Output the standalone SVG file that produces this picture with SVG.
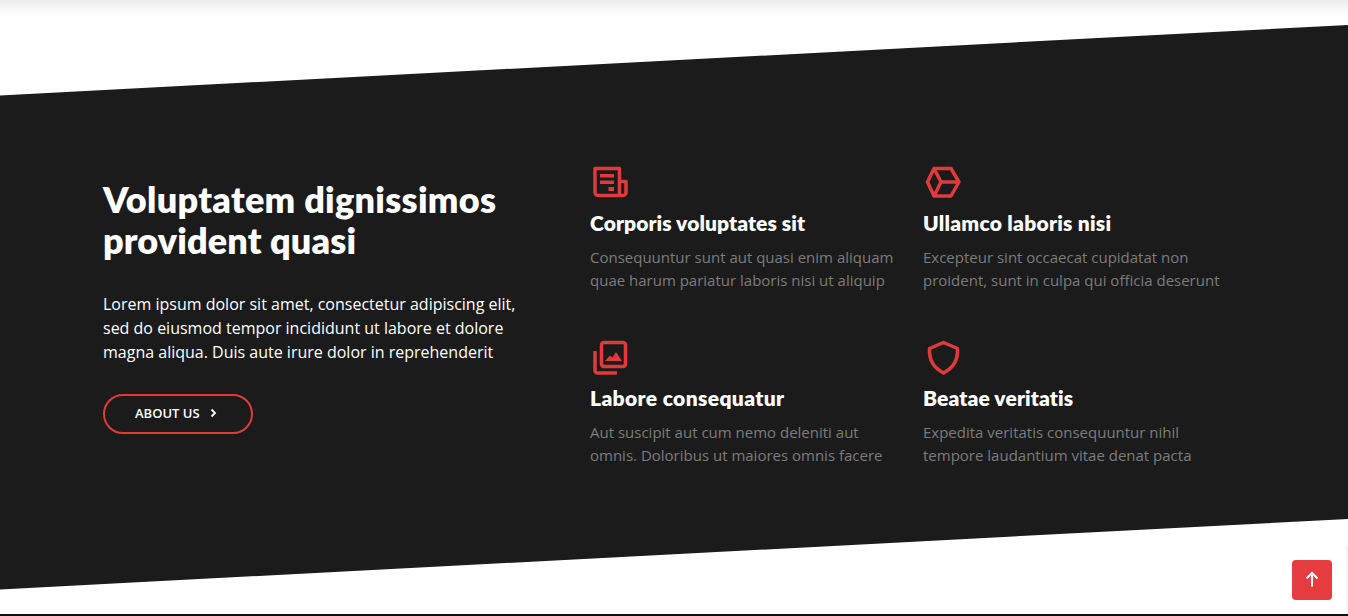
<svg xmlns="http://www.w3.org/2000/svg" width="1348" height="616" viewBox="0 0 1348 616">
<defs>
<linearGradient id="shadow" x1="0" y1="0" x2="0" y2="1"><stop offset="0" stop-color="#000" stop-opacity=".075"/><stop offset="1" stop-color="#000" stop-opacity="0"/></linearGradient>
</defs>
<style>
.h{font-family:Lato,"Open Sans",sans-serif;font-weight:800;fill:#fff;font-variant-ligatures:none}
.b{font-family:"Open Sans",sans-serif;font-size:16px}
.s{font-family:"Open Sans",sans-serif;font-size:15px;fill:#7c7c7c}
.w{fill:#fff}
.i{fill:none;stroke:#e03a3c;stroke-width:3.500;stroke-linejoin:round}
.t{font-size:21px}
</style>
<rect width="1348" height="616" fill="#fff"/>
<rect width="1348" height="16" fill="url(#shadow)"/>
<polygon points="0,95.500 1348,25 1348,519 0,589.500" fill="#1b1b1b"/>
<rect x="0" y="614" width="1348" height="2" fill="#111"/>
<rect x="1346" y="546" width="2" height="68" fill="#f4f4f4"/>
<g id="intro">
<text class="h" x="103" y="213" font-size="36" textLength="393">Voluptatem dignissimos</text>
<text class="h" x="103" y="254" font-size="36" textLength="253">provident quasi</text>
<text class="b w" x="103" y="310">Lorem ipsum dolor sit amet, consectetur adipiscing elit,</text>
<text class="b w" x="103" y="334">sed do eiusmod tempor incididunt ut labore et dolore</text>
<text class="b w" x="103" y="358">magna aliqua. Duis aute irure dolor in reprehenderit</text>
</g>
<g id="about-button">
<rect x="104" y="395" width="148" height="38" rx="19" fill="none" stroke="#e03a3c" stroke-width="2"/>
<text x="135" y="418" font-family="'Open Sans',sans-serif" font-weight="600" font-size="13" fill="#fff">ABOUT US</text>
<path d="M211.500 409.500L215 413L211.500 416.500" fill="none" stroke="#fff" stroke-width="1.800"/>
</g>
<g id="feature-1">
<path class="i" d="M595 168.500H619.500V195.500H598A3 3 0 0 1 595 192.500ZM619.500 181.500H626V192.500A3 3 0 0 1 623 195.500H619.500"/>
<path d="M600 174h14v3.500h-14zM600 180.500h14v3.500h-14zM608.500 187h5.500v4h-5.500z" fill="#e03a3c"/>
<text class="h t" x="590" y="231" textLength="215">Corporis voluptates sit</text>
<text class="s" x="590" y="263">Consequuntur sunt aut quasi enim aliquam</text>
<text class="s" x="590" y="286">quae harum pariatur laboris nisi ut aliquip</text>
</g>
<g id="feature-2">
<path class="i" d="M934 168.500H951L959 182L951 196H934L927.500 182ZM934 168.500L941 182L934 196M941 182H959"/>
<text class="h t" x="923" y="231" textLength="188">Ullamco laboris nisi</text>
<text class="s" x="923" y="263">Excepteur sint occaecat cupidatat non</text>
<text class="s" x="923" y="286">proident, sunt in culpa qui officia deserunt</text>
</g>
<g id="feature-3">
<rect class="i" x="601.500" y="342.500" width="24" height="24" rx="2.500"/>
<path class="i" d="M595 351V370.500A2.500 2.500 0 0 0 597.500 373H617"/>
<path d="M605 361L610 355.500L612.500 357.500L616 352L622 361Z" fill="#e03a3c"/>
<text class="h t" x="590" y="406" textLength="194">Labore consequatur</text>
<text class="s" x="590" y="438">Aut suscipit aut cum nemo deleniti aut</text>
<text class="s" x="590" y="461">omnis. Doloribus ut maiores omnis facere</text>
</g>
<g id="feature-4">
<path class="i" d="M943.500 342.500L957.500 348.500C958 360 954 367 943.500 373C933 367 929 360 929.500 348.500Z"/>
<text class="h t" x="923" y="406" textLength="150">Beatae veritatis</text>
<text class="s" x="923" y="438">Expedita veritatis consequuntur nihil</text>
<text class="s" x="923" y="461">tempore laudantium vitae denat pacta</text>
</g>
<g id="back-to-top">
<rect x="1292" y="560" width="40" height="40" rx="4" fill="#e43c3f"/>
<path d="M1312 586.500V573M1306.500 578.500L1312 573L1317.500 578.500" fill="none" stroke="#fff" stroke-width="2"/>
</g>
</svg>
